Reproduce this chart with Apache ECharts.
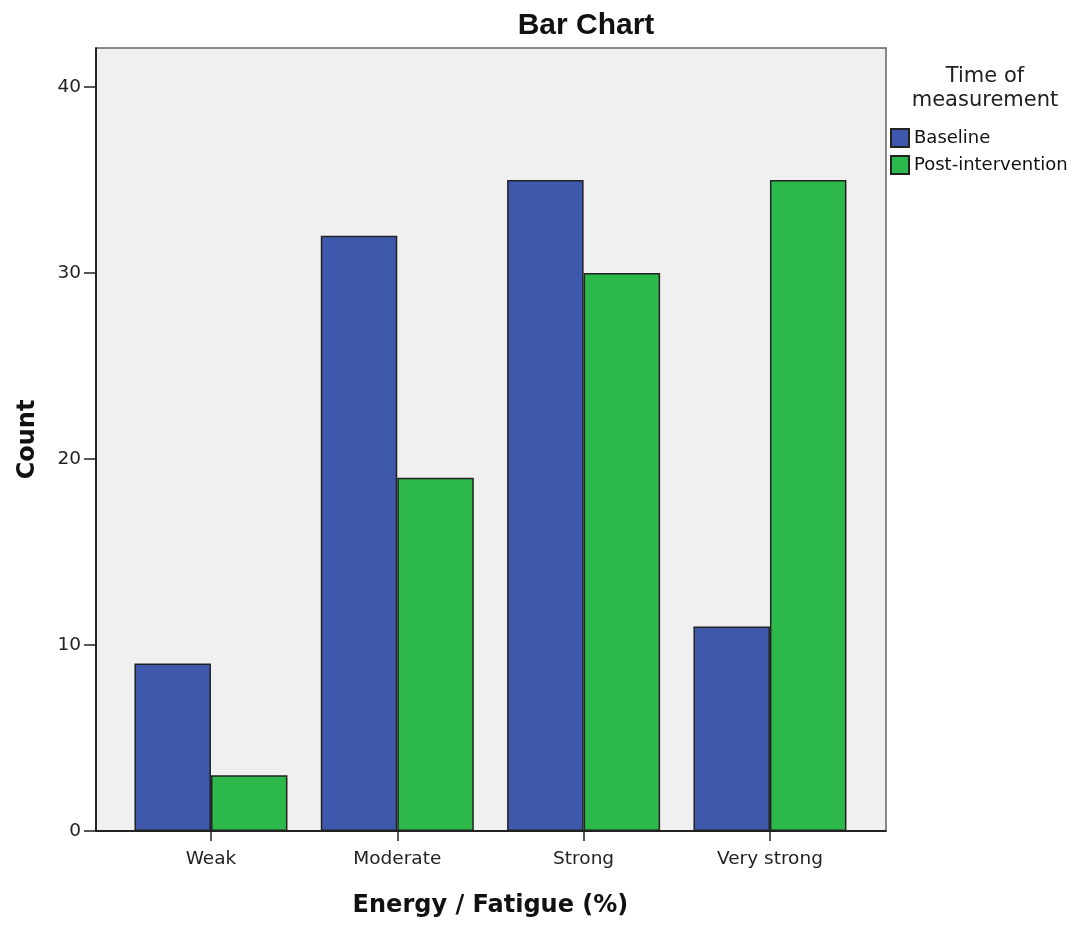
<!DOCTYPE html>
<html>
<head>
<meta charset="utf-8">
<script src="https://cdn.jsdelivr.net/npm/echarts@6/dist/echarts.min.js"></script>
<style>html,body{margin:0;padding:0;background:#fff}#c{width:1075px;height:925px}</style>
</head>
<body>
<div id="c"></div>
<script>
const categories = ['Weak', 'Moderate', 'Strong', 'Very strong'];
const baseline = [9, 32, 35, 11];
const postIntervention = [3, 19, 30, 35];
const seriesNames = ['Baseline', 'Post-intervention'];
const yTicks = [0, 10, 20, 30, 40];
const yMax = 42.1;

const FONT = '"DejaVu Sans", Verdana, sans-serif';
const TFONT = '"Liberation Sans", Arial, sans-serif';
const chart = echarts.init(document.getElementById('c'), null, {renderer: 'canvas'});
chart.setOption({
  animation: false,
  backgroundColor: '#ffffff',
  textStyle: {fontFamily: FONT},
  title: [
    {text: 'Bar Chart', left: 581, top: 6, textAlign: 'center',
     textStyle: {fontFamily: TFONT, fontSize: 30, fontWeight: 'bold', color: '#111'}},
    {text: 'Time of\nmeasurement', left: 980, top: 60, textAlign: 'center',
     textStyle: {fontFamily: FONT, fontSize: 21, fontWeight: 'normal', color: '#222', lineHeight: 24}}
  ],
  legend: {
    orient: 'vertical', left: 885, top: 123,
    itemWidth: 18, itemHeight: 18, itemGap: 7, itemTextGap: 6,
    icon: 'rect',
    textStyle: {fontFamily: FONT, fontSize: 18, color: '#111'},
    data: seriesNames
  },
  grid: [
    {left: 96, right: 189, top: 48, bottom: 94, show: true,
     backgroundColor: '#f0f0f0', borderColor: '#666', borderWidth: 1.5},
    {left: 117.8, right: 211.9, top: 48, bottom: 94}
  ],
  xAxis: [
    {type: 'value', gridIndex: 0, min: 0, max: 1,
     axisLine: {show: true, lineStyle: {color: '#000', width: 1.5}},
     axisTick: {show: false}, axisLabel: {show: false}, splitLine: {show: false}},
    {type: 'category', gridIndex: 1, data: categories,
     axisLine: {show: false},
     axisTick: {show: true, alignWithLabel: true, length: 10, lineStyle: {color: '#222', width: 1.5}},
     axisLabel: {fontFamily: FONT, fontSize: 18.5, color: '#222', margin: 19},
     name: 'Energy / Fatigue (%)', nameLocation: 'middle', nameGap: 63,
     nameTextStyle: {fontFamily: FONT, fontSize: 24, fontWeight: 'bold', color: '#111'}}
  ],
  yAxis: [
    {type: 'value', gridIndex: 0, min: 0, max: yMax,
     axisLine: {show: true, lineStyle: {color: '#000', width: 1.5}},
     axisTick: {show: true, length: 12, customValues: yTicks, lineStyle: {color: '#222', width: 1.5}},
     axisLabel: {fontFamily: FONT, fontSize: 18.5, color: '#222', margin: 15, customValues: yTicks},
     splitLine: {show: false},
     name: 'Count', nameLocation: 'middle', nameRotate: 90, nameGap: 56,
     nameTextStyle: {fontFamily: FONT, fontSize: 24, fontWeight: 'bold', color: '#111'}},
    {type: 'value', gridIndex: 1, min: 0, max: yMax, show: false}
  ],
  series: [
    {name: seriesNames[0], type: 'bar', xAxisIndex: 1, yAxisIndex: 1, data: baseline,
     barWidth: 76.5, barGap: '0%',
     itemStyle: {color: '#3e58ac', borderColor: '#222', borderWidth: 1.5}},
    {name: seriesNames[1], type: 'bar', xAxisIndex: 1, yAxisIndex: 1, data: postIntervention,
     barWidth: 76.5, barGap: '0%',
     itemStyle: {color: '#2db84b', borderColor: '#222', borderWidth: 1.5}}
  ]
});
</script>
</body>
</html>
